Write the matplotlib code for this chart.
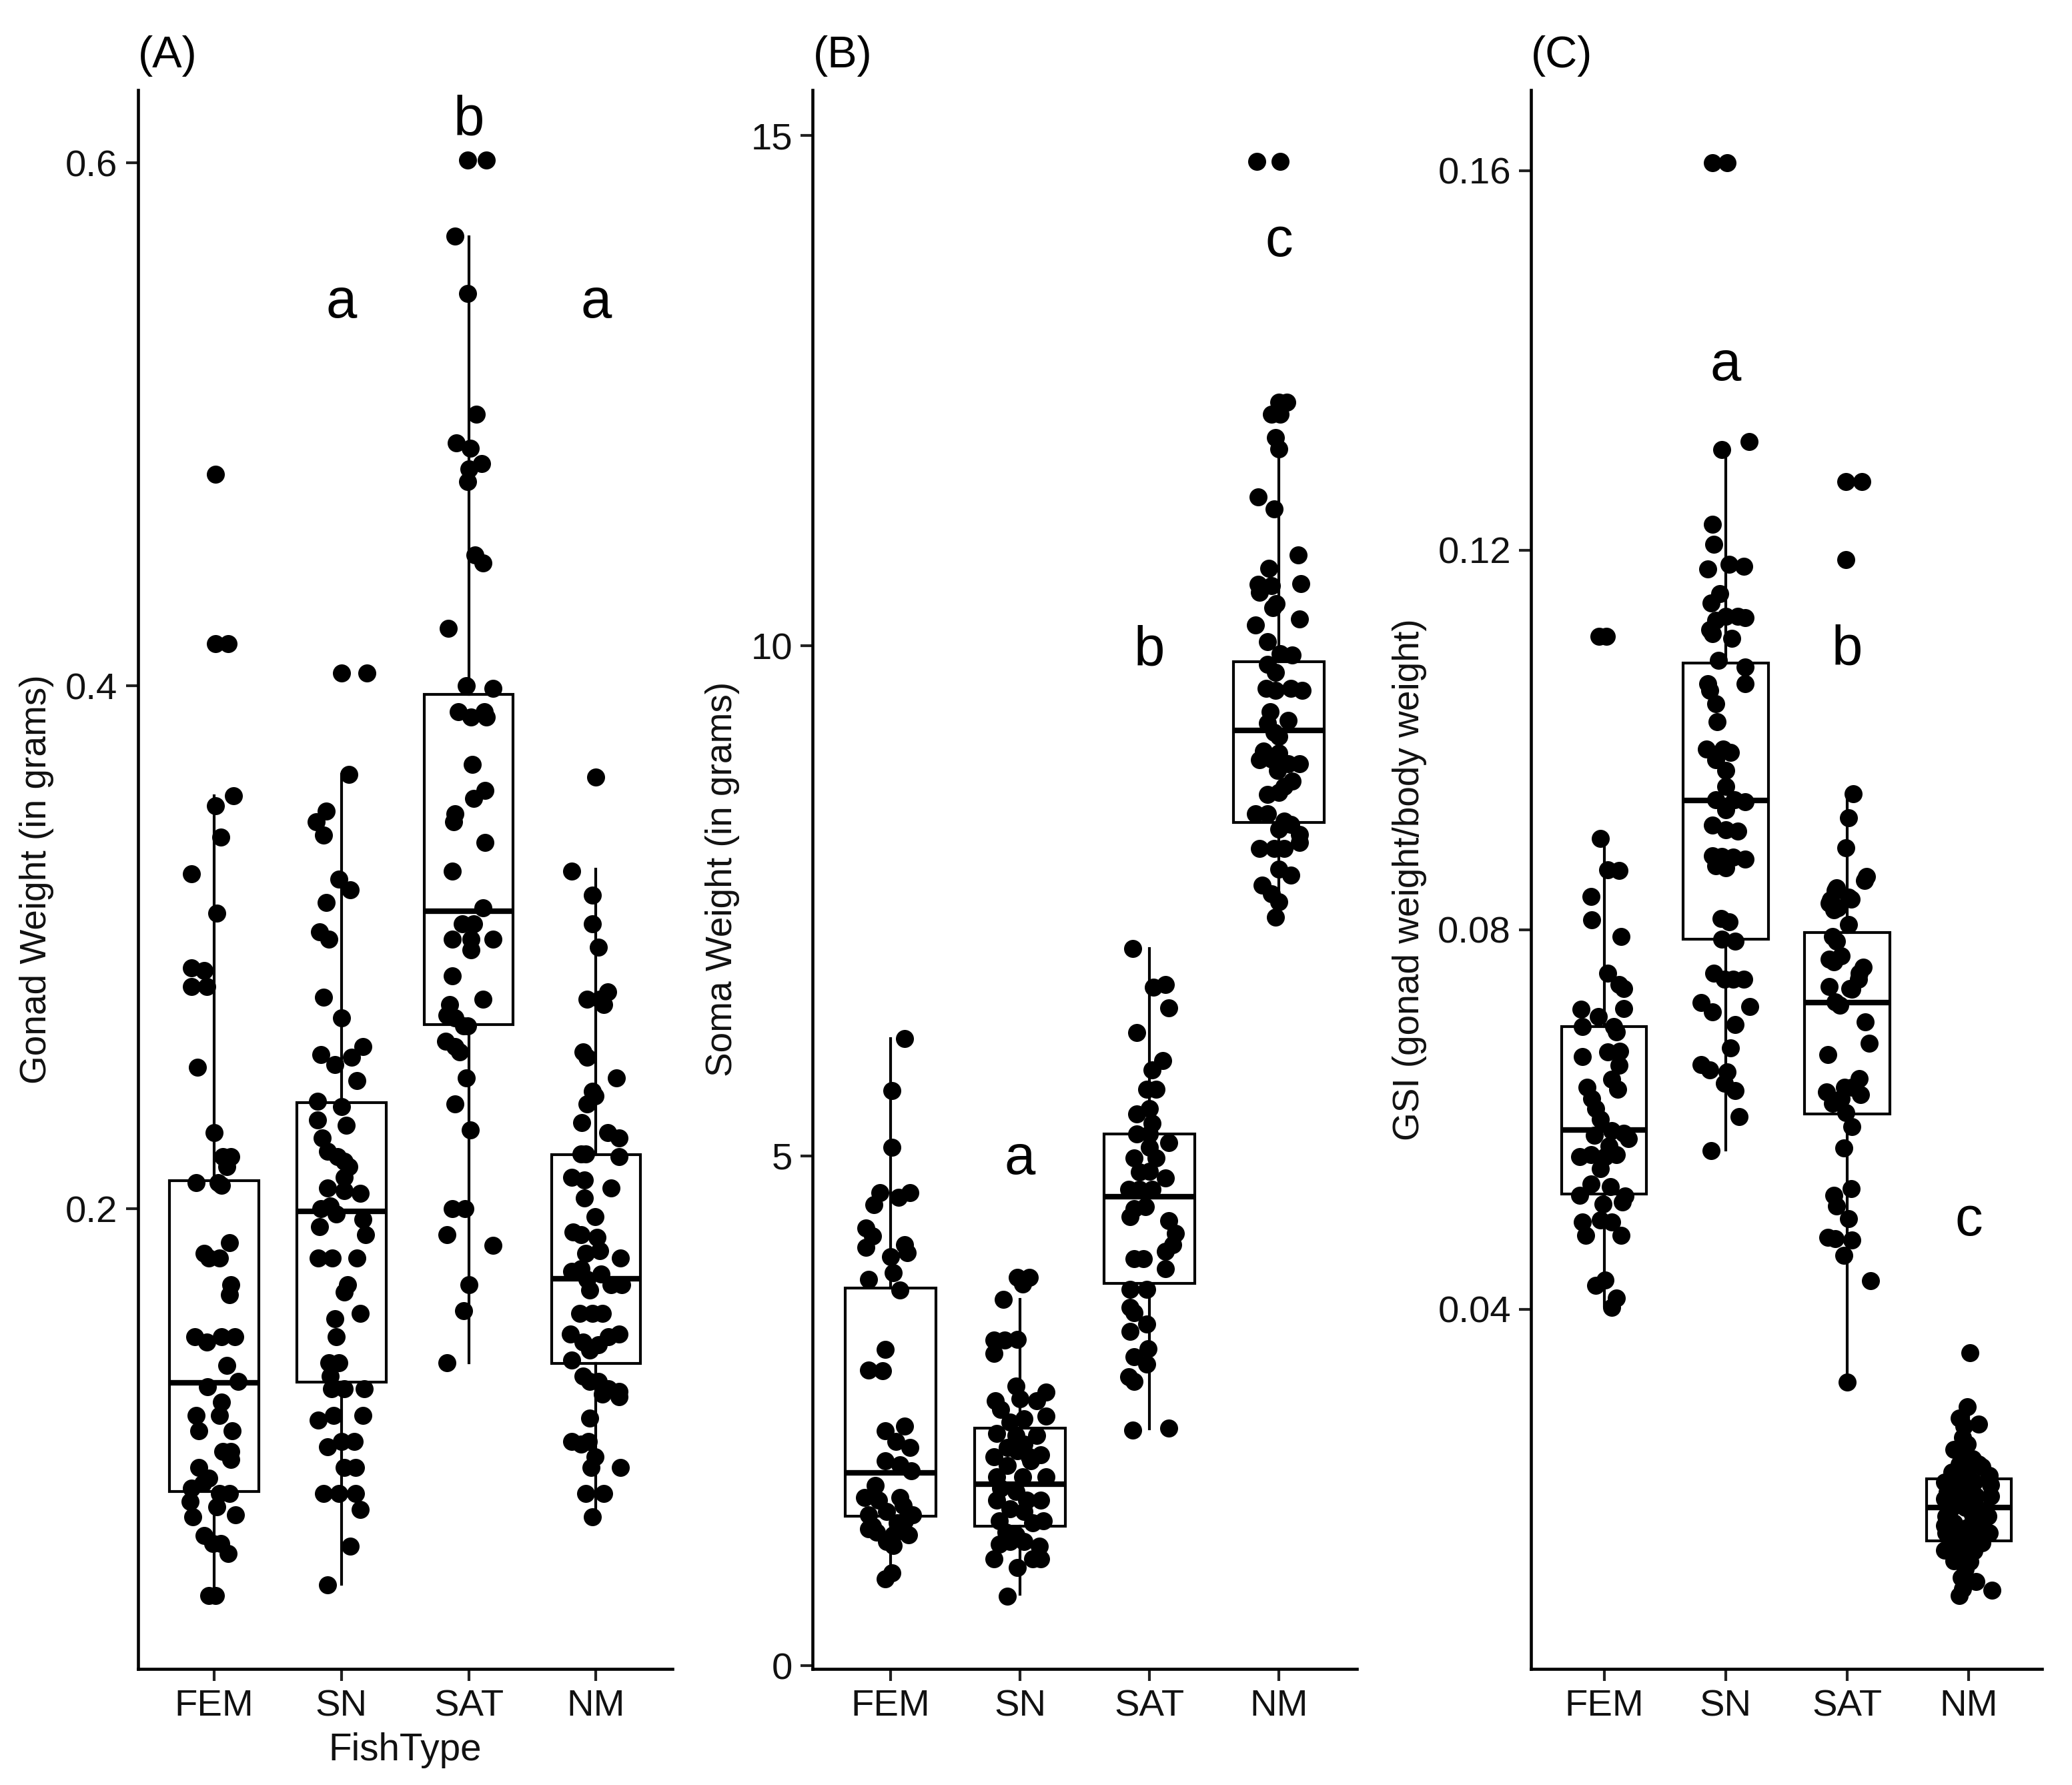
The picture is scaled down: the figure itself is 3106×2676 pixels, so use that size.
import matplotlib.pyplot as plt
import numpy as np

plt.rcParams['font.family'] = ['Liberation Sans', 'DejaVu Sans']

types = ['FEM', 'SN', 'SAT', 'NM']

# ---- Panel A: gonad weight (g) ----
gonad_fem = [0.481, 0.416, 0.416, 0.358, 0.354, 0.342, 0.328, 0.313, 0.292, 0.291, 0.285, 0.285,
             0.254, 0.229, 0.220, 0.220, 0.216, 0.210, 0.210, 0.209, 0.187, 0.183, 0.181, 0.181,
             0.171, 0.167, 0.151, 0.149, 0.151, 0.151, 0.140, 0.132, 0.134, 0.126, 0.121, 0.121,
             0.115, 0.115, 0.107, 0.107, 0.104, 0.101, 0.097, 0.095, 0.093, 0.088, 0.091, 0.091,
             0.082, 0.086, 0.083, 0.075, 0.072, 0.072, 0.068, 0.052, 0.052]
gonad_fem_dx = [0.01, 0.01, 0.11, 0.15, 0.01, 0.05, -0.18, 0.02, -0.18, -0.08, -0.18, -0.06,
                -0.13, 0.00, 0.07, 0.13, 0.10, -0.14, 0.03, 0.06, 0.12, -0.08, -0.04, 0.04,
                0.13, 0.12, -0.15, -0.06, 0.06, 0.16, 0.10, -0.05, 0.19, 0.06, 0.04, -0.14,
                -0.12, 0.14, 0.07, 0.13, 0.13, -0.12, -0.04, -0.09, -0.18, -0.19, 0.04, 0.12,
                -0.17, 0.02, 0.17, -0.08, -0.01, 0.05, 0.11, -0.04, 0.01]
gonad_sn = [0.405, 0.405, 0.366, 0.348, 0.352, 0.343, 0.326, 0.322, 0.317, 0.306, 0.303, 0.281,
            0.273, 0.262, 0.258, 0.259, 0.255, 0.249, 0.241, 0.234, 0.239, 0.232, 0.227, 0.222,
            0.220, 0.218, 0.216, 0.212, 0.208, 0.207, 0.206, 0.201, 0.200, 0.198, 0.196, 0.193,
            0.190, 0.181, 0.181, 0.181, 0.171, 0.168, 0.158, 0.160, 0.151, 0.141, 0.141, 0.136,
            0.131, 0.131, 0.131, 0.119, 0.121, 0.121, 0.109, 0.111, 0.111, 0.101, 0.101, 0.091,
            0.091, 0.091, 0.085, 0.071, 0.056]
gonad_sn_dx = [0.00, 0.20, 0.06, -0.20, -0.12, -0.14, -0.02, 0.07, -0.12, -0.17, -0.10, -0.14,
               0.00, 0.17, 0.08, -0.16, -0.05, 0.12, -0.19, -0.19, 0.00, 0.04, -0.15, -0.11,
               -0.03, 0.02, 0.06, 0.02, -0.11, 0.02, 0.15, -0.09, -0.16, -0.04, 0.17, -0.17,
               0.19, -0.18, -0.07, 0.12, 0.05, 0.02, -0.05, 0.15, -0.04, -0.10, -0.02, -0.09,
               -0.08, 0.02, 0.18, -0.18, -0.06, 0.17, -0.11, 0.00, 0.10, 0.02, 0.11, -0.14,
               -0.02, 0.11, 0.15, 0.07, -0.11]
gonad_sat = [0.601, 0.601, 0.572, 0.550, 0.504, 0.493, 0.491, 0.485, 0.483, 0.478, 0.450, 0.447,
             0.422, 0.400, 0.399, 0.390, 0.388, 0.390, 0.388, 0.370, 0.360, 0.357, 0.351, 0.348,
             0.340, 0.329, 0.315, 0.309, 0.309, 0.303, 0.303, 0.299, 0.303, 0.289, 0.280, 0.278,
             0.274, 0.273, 0.270, 0.270, 0.264, 0.262, 0.260, 0.250, 0.240, 0.230, 0.200, 0.200,
             0.190, 0.186, 0.171, 0.161, 0.141]
gonad_sat_dx = [-0.01, 0.14, -0.11, -0.01, 0.06, -0.10, 0.01, 0.10, 0.00, -0.01, 0.05, 0.11,
                -0.16, -0.02, 0.19, -0.08, 0.02, 0.12, 0.14, 0.03, 0.13, 0.04, -0.11, -0.12,
                0.13, -0.13, 0.11, -0.05, 0.04, -0.13, 0.02, 0.02, 0.19, -0.13, 0.11, -0.15,
                -0.17, -0.11, -0.04, -0.01, -0.18, -0.11, -0.07, -0.02, -0.11, 0.01, -0.13, -0.03,
                -0.17, 0.19, 0.00, -0.04, -0.17]
gonad_nm = [0.365, 0.329, 0.320, 0.309, 0.300, 0.280, 0.280, 0.283, 0.278, 0.260, 0.258, 0.250,
            0.245, 0.240, 0.243, 0.233, 0.229, 0.227, 0.221, 0.221, 0.220, 0.212, 0.211, 0.208,
            0.204, 0.197, 0.191, 0.190, 0.189, 0.183, 0.184, 0.181, 0.176, 0.177, 0.173, 0.175,
            0.171, 0.171, 0.169, 0.160, 0.160, 0.160, 0.152, 0.149, 0.148, 0.151, 0.152, 0.146,
            0.142, 0.136, 0.134, 0.134, 0.129, 0.131, 0.130, 0.128, 0.120, 0.111, 0.110, 0.111,
            0.105, 0.101, 0.101, 0.091, 0.091, 0.082]
gonad_nm_dx = [0.00, -0.19, -0.03, -0.03, 0.02, -0.07, 0.03, 0.09, 0.06, -0.10, -0.07, 0.16,
               -0.03, -0.07, -0.01, -0.11, 0.09, 0.18, -0.12, -0.08, 0.18, -0.19, -0.09, 0.12,
               -0.09, -0.01, -0.18, -0.12, 0.01, -0.08, 0.03, 0.19, -0.19, -0.12, -0.07, 0.04,
               0.12, 0.20, -0.05, -0.03, -0.13, 0.05, -0.20, -0.10, 0.02, 0.10, 0.18, -0.05,
               -0.19, -0.10, -0.05, 0.02, 0.05, 0.10, 0.18, 0.18, -0.05, -0.19, -0.12, -0.06,
               -0.01, -0.04, 0.19, -0.08, 0.06, -0.03]
# box stats: q1, median, q3, lower whisker, upper whisker
gonad_box = [(0.0918, 0.1333, 0.2106, 0.052, 0.358),
             (0.1337, 0.199, 0.2405, 0.0564, 0.366),
             (0.2703, 0.3138, 0.3967, 0.141, 0.5717),
             (0.1408, 0.1732, 0.2207, 0.0816, 0.330)]
gonad_letters = ['', 'a', 'b', 'a']
gonad_letter_y = [0, 0.541, 0.6106, 0.541]

# ---- Panel B: soma weight (g) ----
soma_fem = [6.15, 5.64, 5.08, 4.64, 4.59, 4.64, 4.52, 4.29, 4.21, 4.10, 4.13, 4.05, 4.01, 3.79,
            3.85, 3.68, 3.10, 2.90, 2.89, 2.30, 2.35, 2.20, 2.14, 2.01, 1.97, 1.77, 1.91, 1.65,
            1.62, 1.65, 1.57, 1.48, 1.51, 1.48, 1.40, 1.37, 1.42, 1.34, 1.28, 1.28, 1.31, 1.22,
            1.18, 0.91, 0.85]
soma_fem_dx = [0.11, 0.01, 0.01, -0.08, 0.06, 0.15, -0.13, -0.19, -0.14, -0.19, 0.11, 0.13, 0.00, -0.17,
               0.02, 0.07, -0.04, -0.17, -0.06, -0.04, 0.11, 0.04, 0.15, -0.04, 0.07, -0.12, 0.16, -0.20,
               -0.09, 0.07, 0.10, -0.17, -0.03, 0.17, 0.05, -0.14, 0.11, -0.17, 0.02, 0.14, -0.11, -0.03,
               0.02, 0.01, -0.04]
soma_sn = [3.81, 3.81, 3.74, 3.59, 3.19, 3.19, 3.20, 3.06, 2.74, 2.68, 2.60, 2.62, 2.60, 2.51,
           2.39, 2.42, 2.45, 2.28, 2.26, 2.26, 2.14, 2.11, 2.17, 2.05, 2.05, 2.07, 1.96, 2.01,
           1.85, 1.85, 1.85, 1.74, 1.71, 1.62, 1.62, 1.62, 1.54, 1.51, 1.42, 1.40, 1.42, 1.31,
           1.28, 1.19, 1.17, 1.22, 1.22, 1.05, 1.05, 1.05, 0.96, 0.68]
soma_sn_dx = [-0.02, 0.07, 0.02, -0.13, -0.20, -0.12, -0.02, -0.20, -0.03, 0.20, -0.19, 0.00, 0.13, -0.15,
              -0.08, 0.03, 0.20, -0.18, -0.03, 0.13, -0.10, -0.02, 0.03, -0.20, 0.07, 0.16, -0.10, 0.08,
              -0.18, 0.02, 0.20, -0.15, -0.03, -0.18, 0.05, 0.16, -0.08, 0.03, -0.16, 0.10, 0.18, -0.11,
              -0.03, -0.16, 0.15, -0.08, 0.03, -0.20, 0.10, 0.16, -0.02, -0.10]
soma_sat = [7.03, 6.65, 6.68, 6.45, 6.21, 5.93, 5.84, 5.65, 5.65, 5.46, 5.41, 5.32, 5.21, 5.21,
            5.13, 5.08, 4.98, 4.98, 4.84, 4.85, 4.78, 4.67, 4.67, 4.67, 4.48, 4.50, 4.40, 4.36,
            4.24, 4.13, 4.06, 3.99, 3.99, 3.89, 3.69, 3.69, 3.51, 3.46, 3.35, 3.28, 3.03, 3.11,
            2.96, 2.83, 2.79, 2.31, 2.33]
soma_sat_dx = [-0.13, 0.03, 0.12, 0.15, -0.10, 0.10, 0.02, -0.02, 0.05, 0.00, -0.10, 0.02, -0.10, 0.00,
               0.15, 0.00, -0.12, 0.05, -0.08, 0.00, 0.12, -0.16, -0.08, 0.02, -0.12, -0.03, -0.15, 0.15,
               0.20, 0.18, 0.12, -0.12, -0.05, 0.12, -0.15, -0.02, -0.15, -0.12, -0.02, -0.15, -0.12, -0.01,
               -0.02, -0.16, -0.12, -0.13, 0.15]
soma_nm = [14.75, 14.75, 12.39, 12.39, 12.27, 12.27, 12.04, 11.93, 11.46, 11.34, 10.89, 10.76,
           10.60, 10.59, 10.61, 10.52, 10.41, 10.37, 10.20, 10.26, 10.04, 9.92, 9.91, 9.82, 9.74,
           9.58, 9.56, 9.58, 9.56, 9.35, 9.24, 9.27, 9.15, 9.11, 8.97, 8.95, 8.89, 8.84, 8.84,
           8.88, 8.78, 8.67, 8.62, 8.56, 8.54, 8.35, 8.35, 8.28, 8.20, 8.25, 8.15, 8.07, 8.01,
           8.01, 8.01, 7.81, 7.75, 7.65, 7.57, 7.49, 7.34]
soma_nm_dx = [-0.17, 0.01, 0.00, 0.06, -0.06, 0.01, -0.03, 0.00, -0.16, -0.04, 0.15, -0.08,
              -0.16, -0.06, 0.17, -0.15, -0.02, -0.05, -0.18, 0.16, -0.09, 0.01, 0.10, -0.09, -0.03,
              -0.10, -0.03, 0.09, 0.18, -0.07, -0.09, 0.07, -0.04, 0.00, -0.12, 0.00, -0.06, 0.07, 0.16,
              -0.15, -0.01, 0.10, 0.04, 0.00, -0.09, -0.18, -0.09, 0.04, 0.00, 0.09, 0.16, 0.16, -0.15,
              -0.04, 0.04, 0.00, 0.09, -0.13, -0.06, 0.00, -0.03]
soma_box = [(1.465, 1.89, 3.70, 0.87, 6.15),
            (1.37, 1.78, 2.33, 0.70, 3.59),
            (3.75, 4.60, 5.21, 2.32, 7.03),
            (8.27, 9.17, 9.84, 7.36, 11.93)]
soma_letters = ['', 'a', 'b', 'c']
soma_letter_y = [0, 4.82, 9.81, 13.82]

# ---- Panel C: GSI ----
gsi_fem = [0.1109, 0.1109, 0.0896, 0.0863, 0.0862, 0.0835, 0.0810, 0.0793, 0.0754, 0.0742,
           0.0738, 0.0716, 0.0708, 0.0717, 0.0698, 0.0698, 0.0692, 0.0666, 0.0671, 0.0672,
           0.0657, 0.0642, 0.0634, 0.0632, 0.0622, 0.0611, 0.0600, 0.0588, 0.0585, 0.0580,
           0.0583, 0.0572, 0.0561, 0.0563, 0.0561, 0.0563, 0.0548, 0.0532, 0.0529, 0.0520,
           0.0519, 0.0511, 0.0513, 0.0492, 0.0494, 0.0492, 0.0478, 0.0478, 0.0425, 0.0431,
           0.0412, 0.0402]
gsi_fem_dx = [-0.04, 0.02, -0.03, 0.03, 0.12, -0.11, -0.10, 0.14, 0.03, 0.12,
              0.16, -0.19, -0.05, 0.16, -0.18, 0.08, 0.10, -0.18, 0.03, 0.13,
              0.12, 0.06, -0.14, 0.11, -0.10, -0.07, -0.03, 0.06, 0.16, 0.20,
              -0.08, 0.04, -0.20, -0.11, 0.01, 0.10, -0.03, -0.11, 0.05, -0.20,
              0.17, -0.01, 0.15, -0.18, -0.03, 0.06, -0.15, 0.14, -0.07, 0.01,
              0.10, 0.06]
gsi_sn = [0.1608, 0.1608, 0.1314, 0.1306, 0.1227, 0.1206, 0.1180, 0.1185, 0.1183, 0.1154,
          0.1144, 0.1126, 0.1130, 0.1130, 0.1129, 0.1116, 0.1112, 0.1107, 0.1084, 0.1077,
          0.1059, 0.1059, 0.1052, 0.1038, 0.1019, 0.0990, 0.0990, 0.0987, 0.0979, 0.0968,
          0.0951, 0.0937, 0.0937, 0.0935, 0.0926, 0.0910, 0.0905, 0.0904, 0.0878, 0.0877,
          0.0876, 0.0874, 0.0867, 0.0865, 0.0812, 0.0808, 0.0790, 0.0788, 0.0754, 0.0748,
          0.0748, 0.0748, 0.0723, 0.0713, 0.0719, 0.0700, 0.0675, 0.0658, 0.0652, 0.0650,
          0.0638, 0.0630, 0.0603, 0.0567]
gsi_sn_dx = [-0.11, 0.01, 0.19, -0.03, -0.11, -0.10, -0.15, 0.03, 0.15, -0.05,
             -0.12, -0.08, 0.00, 0.10, 0.16, -0.13, -0.11, 0.05, -0.06, 0.16,
             0.16, -0.15, -0.13, -0.08, -0.07, -0.16, -0.02, 0.04, -0.08, 0.00,
             0.00, -0.08, 0.07, 0.16, 0.00, -0.11, 0.00, 0.10, -0.11, -0.03,
             0.06, 0.16, -0.08, 0.00, -0.04, 0.03, -0.03, 0.08, -0.10, -0.01,
             0.06, 0.15, -0.20, -0.11, 0.20, 0.08, 0.04, -0.20, -0.13, 0.01,
             -0.01, 0.08, 0.11, -0.12]
gsi_sat = [0.1272, 0.1272, 0.1190, 0.0943, 0.0918, 0.0886, 0.0856, 0.0852, 0.0844, 0.0831,
           0.0821, 0.0834, 0.0841, 0.0828, 0.0832, 0.0823, 0.0805, 0.0793, 0.0788, 0.0769,
           0.0766, 0.0772, 0.0760, 0.0754, 0.0748, 0.0740, 0.0738, 0.0737, 0.0724, 0.0720,
           0.0703, 0.0680, 0.0668, 0.0643, 0.0629, 0.0634, 0.0634, 0.0626, 0.0617, 0.0622,
           0.0607, 0.0592, 0.0570, 0.0520, 0.0527, 0.0509, 0.0495, 0.0476, 0.0474, 0.0473,
           0.0457, 0.0430, 0.0323]
gsi_sat_dx = [-0.01, 0.12, -0.01, 0.05, 0.01, -0.01, 0.16, 0.14, -0.09, -0.14,
              -0.11, 0.01, -0.10, -0.15, 0.03, -0.08, 0.01, -0.12, -0.09, -0.15,
              -0.11, -0.05, 0.13, 0.10, 0.09, -0.15, 0.02, 0.04, -0.10, -0.06,
              0.15, 0.18, -0.16, 0.10, -0.17, -0.02, 0.04, 0.11, -0.12, -0.05,
              -0.01, 0.04, -0.03, -0.11, 0.03, -0.09, 0.01, -0.16, -0.10, 0.04,
              -0.03, 0.19, 0.00]
gsi_nm = [0.0354, 0.0297, 0.0285, 0.0277, 0.0279, 0.0265, 0.0258, 0.0252, 0.0246, 0.0242,
          0.0237, 0.0237, 0.0234, 0.0228, 0.0226, 0.0225, 0.0218, 0.0215, 0.0218, 0.0218,
          0.0215, 0.0207, 0.0209, 0.0203, 0.0203, 0.0200, 0.0197, 0.0200, 0.0191, 0.0191,
          0.0188, 0.0182, 0.0183, 0.0182, 0.0172, 0.0175, 0.0170, 0.0172, 0.0164, 0.0163,
          0.0162, 0.0164, 0.0152, 0.0151, 0.0154, 0.0146, 0.0143, 0.0145, 0.0135, 0.0134,
          0.0126, 0.0117, 0.0113, 0.0105, 0.0098, 0.0104]
gsi_nm_dx = [0.01, -0.01, -0.08, -0.04, 0.08, -0.05, -0.01, -0.12, -0.04, 0.03,
             -0.08, 0.08, 0.11, -0.14, -0.01, 0.17, -0.20, -0.15, -0.10, 0.04,
             0.18, -0.18, -0.05, 0.06, 0.18, -0.20, -0.10, 0.03, -0.14, -0.03,
             0.10, -0.19, 0.03, 0.16, -0.20, -0.12, -0.01, 0.10, -0.19, -0.06,
             0.04, 0.17, -0.15, -0.01, 0.11, -0.20, -0.08, 0.04, -0.12, 0.01,
             -0.03, -0.06, 0.06, -0.05, -0.08, 0.19]
gsi_box = [(0.0521, 0.0589, 0.0698, 0.0403, 0.0896),
           (0.0790, 0.0936, 0.1081, 0.0568, 0.1312),
           (0.0606, 0.0723, 0.0797, 0.0323, 0.0944),
           (0.0156, 0.0191, 0.0221, 0.0100, 0.0300)]
gsi_letters = ['', 'a', 'b', 'c']
gsi_letter_y = [0, 0.1379, 0.1079, 0.0478]


def draw_panel(ax, values, offsets, boxes, letters, letter_y, ylim, yticks, ytick_labels,
               ylabel, title):
    stats = []
    for t, (q1, med, q3, lo, hi) in zip(types, boxes):
        stats.append(dict(q1=q1, med=med, q3=q3, whislo=lo, whishi=hi, fliers=[], label=t))
    ax.bxp(stats, positions=[1, 2, 3, 4], widths=0.7, showfliers=False, showcaps=False,
           patch_artist=True,
           boxprops=dict(facecolor='white', edgecolor='black', linewidth=1.0),
           whiskerprops=dict(color='black', linewidth=1.0),
           medianprops=dict(color='black', linewidth=2.0))
    for i in range(4):
        x = (i + 1) + np.array(offsets[i])
        ax.scatter(x, values[i], s=42, color='black', linewidths=0, zorder=3)
    for i, lab in enumerate(letters):
        if lab:
            ax.text(i + 1, letter_y[i], lab, ha='center', va='baseline', fontsize=20)

    ax.set_xlim(0.4, 4.6)
    ax.set_ylim(*ylim)
    ax.set_xticks([1, 2, 3, 4])
    ax.set_xticklabels(types)
    ax.set_yticks(yticks)
    ax.set_yticklabels(ytick_labels)
    ax.spines['top'].set_visible(False)
    ax.spines['right'].set_visible(False)
    ax.spines['left'].set_linewidth(1.1)
    ax.spines['bottom'].set_linewidth(1.1)
    ax.tick_params(axis='both', length=4.3, width=1.0, color='#222222',
                   labelsize=13.5, labelcolor='#111111', pad=3)
    ax.set_ylabel(ylabel, fontsize=13.2, color='#111111')
    ax.set_title(title, loc='left', fontsize=16, pad=8)


fig = plt.figure(figsize=(3106 / 300, 2676 / 300), dpi=300)
ax_a = fig.add_axes([0.0665, 0.0651, 0.258, 0.8846])
ax_b = fig.add_axes([0.3923, 0.0651, 0.2625, 0.8846])
ax_c = fig.add_axes([0.7390, 0.0651, 0.2464, 0.8846])

draw_panel(ax_a, [gonad_fem, gonad_sn, gonad_sat, gonad_nm],
           [gonad_fem_dx, gonad_sn_dx, gonad_sat_dx, gonad_nm_dx],
           gonad_box, gonad_letters, gonad_letter_y, (0.024, 0.628),
           [0.2, 0.4, 0.6], ['0.2', '0.4', '0.6'], 'Gonad Weight (in grams)', '(A)')
ax_a.set_xlabel('FishType', fontsize=13.6, color='#111111', labelpad=3)

draw_panel(ax_b, [soma_fem, soma_sn, soma_sat, soma_nm],
           [soma_fem_dx, soma_sn_dx, soma_sat_dx, soma_nm_dx],
           soma_box, soma_letters, soma_letter_y, (-0.03, 15.45),
           [0, 5, 10, 15], ['0', '5', '10', '15'], 'Soma Weight (in grams)', '(B)')

draw_panel(ax_c, [gsi_fem, gsi_sn, gsi_sat, gsi_nm],
           [gsi_fem_dx, gsi_sn_dx, gsi_sat_dx, gsi_nm_dx],
           gsi_box, gsi_letters, gsi_letter_y, (0.0021, 0.1685),
           [0.04, 0.08, 0.12, 0.16], ['0.04', '0.08', '0.12', '0.16'],
           'GSI (gonad weight/body weight)', '(C)')

fig.savefig('out.png', dpi=300)
